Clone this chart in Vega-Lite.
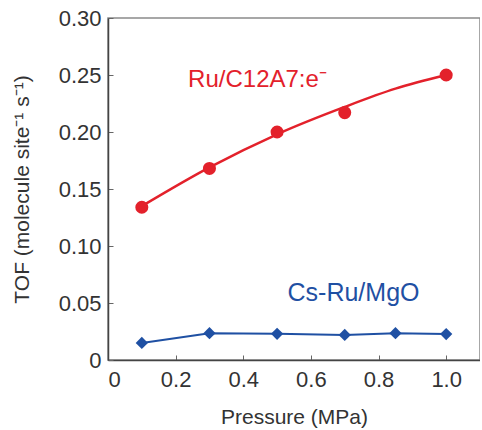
{
  "$schema": "https://vega.github.io/schema/vega-lite/v6.json",
  "autosize": "none",
  "padding": {"left": 108, "top": 18, "right": 0, "bottom": 70},
  "width": 372,
  "height": 342,
  "background": "white",
  "config": {
    "font": "Liberation Sans",
    "view": {"stroke": "#8a8a8a", "strokeWidth": 1.5},
    "axis": {
      "grid": false,
      "domainColor": "#444",
      "domainWidth": 1.5,
      "tickColor": "#666",
      "labelColor": "#333",
      "titleColor": "#333",
      "labelFont": "Liberation Sans",
      "titleFont": "Liberation Sans",
      "titleFontWeight": "normal"
    }
  },
  "datasets": {
    "ru": [
      {"p": 0.1, "tof": 0.134},
      {"p": 0.3, "tof": 0.168},
      {"p": 0.5, "tof": 0.200},
      {"p": 0.7, "tof": 0.217},
      {"p": 1.0, "tof": 0.250}
    ],
    "rufit": [
      {"p": 0.1, "tof": 0.135},
      {"p": 0.3, "tof": 0.169},
      {"p": 0.5, "tof": 0.198},
      {"p": 0.7, "tof": 0.222},
      {"p": 0.85, "tof": 0.238},
      {"p": 1.0, "tof": 0.250}
    ],
    "cs": [
      {"p": 0.1, "tof": 0.015},
      {"p": 0.3, "tof": 0.0235},
      {"p": 0.5, "tof": 0.023},
      {"p": 0.7, "tof": 0.022},
      {"p": 0.85, "tof": 0.0235},
      {"p": 1.0, "tof": 0.0228}
    ]
  },
  "layer": [
    {
      "data": {"name": "rufit"},
      "mark": {"type": "line", "interpolate": "monotone", "color": "#e3212b", "strokeWidth": 2.5},
      "encoding": {
        "x": {
          "field": "p", "type": "quantitative",
          "scale": {"domain": [0, 1.1], "nice": false},
          "axis": {
            "values": [0, 0.2, 0.4, 0.6, 0.8, 1.0],
            "labelExpr": "datum.value == 0 ? '0' : format(datum.value, '.1f')",
            "labelFontSize": 22,
            "tickSize": -5,
            "labelPadding": 14,
            "title": "Pressure (MPa)",
            "titleFontSize": 21,
            "titlePadding": 16
          }
        },
        "y": {
          "field": "tof", "type": "quantitative",
          "scale": {"domain": [0, 0.3], "nice": false},
          "axis": {
            "values": [0, 0.05, 0.1, 0.15, 0.2, 0.25, 0.3],
            "labelExpr": "datum.value == 0 ? '0' : format(datum.value, '.2f')",
            "labelFontSize": 22,
            "tickSize": -5,
            "labelPadding": 12,
            "title": "TOF (molecule site⁻¹ s⁻¹)",
            "titleFontSize": 21,
            "titlePadding": 26
          }
        }
      }
    },
    {
      "data": {"name": "ru"},
      "mark": {"type": "point", "shape": "circle", "filled": true, "opacity": 1, "color": "#e3212b", "size": 170},
      "encoding": {
        "x": {"field": "p", "type": "quantitative"},
        "y": {"field": "tof", "type": "quantitative"}
      }
    },
    {
      "data": {"name": "cs"},
      "mark": {"type": "line", "color": "#1f50a3", "strokeWidth": 2},
      "encoding": {
        "x": {"field": "p", "type": "quantitative"},
        "y": {"field": "tof", "type": "quantitative"}
      }
    },
    {
      "data": {"name": "cs"},
      "mark": {"type": "point", "shape": "diamond", "filled": true, "opacity": 1, "color": "#1f50a3", "size": 150},
      "encoding": {
        "x": {"field": "p", "type": "quantitative"},
        "y": {"field": "tof", "type": "quantitative"}
      }
    },
    {
      "data": {"values": [{"label": "Ru/C12A7:e⁻"}]},
      "mark": {"type": "text", "color": "#e3212b", "fontSize": 24, "font": "Liberation Sans", "align": "center", "baseline": "middle"},
      "encoding": {
        "x": {"datum": 0.442, "type": "quantitative"},
        "y": {"datum": 0.2456, "type": "quantitative"},
        "text": {"field": "label"}
      }
    },
    {
      "data": {"values": [{"label": "Cs-Ru/MgO"}]},
      "mark": {"type": "text", "color": "#1f50a3", "fontSize": 25, "font": "Liberation Sans", "align": "center", "baseline": "middle"},
      "encoding": {
        "x": {"datum": 0.726, "type": "quantitative"},
        "y": {"datum": 0.0588, "type": "quantitative"},
        "text": {"field": "label"}
      }
    }
  ]
}
